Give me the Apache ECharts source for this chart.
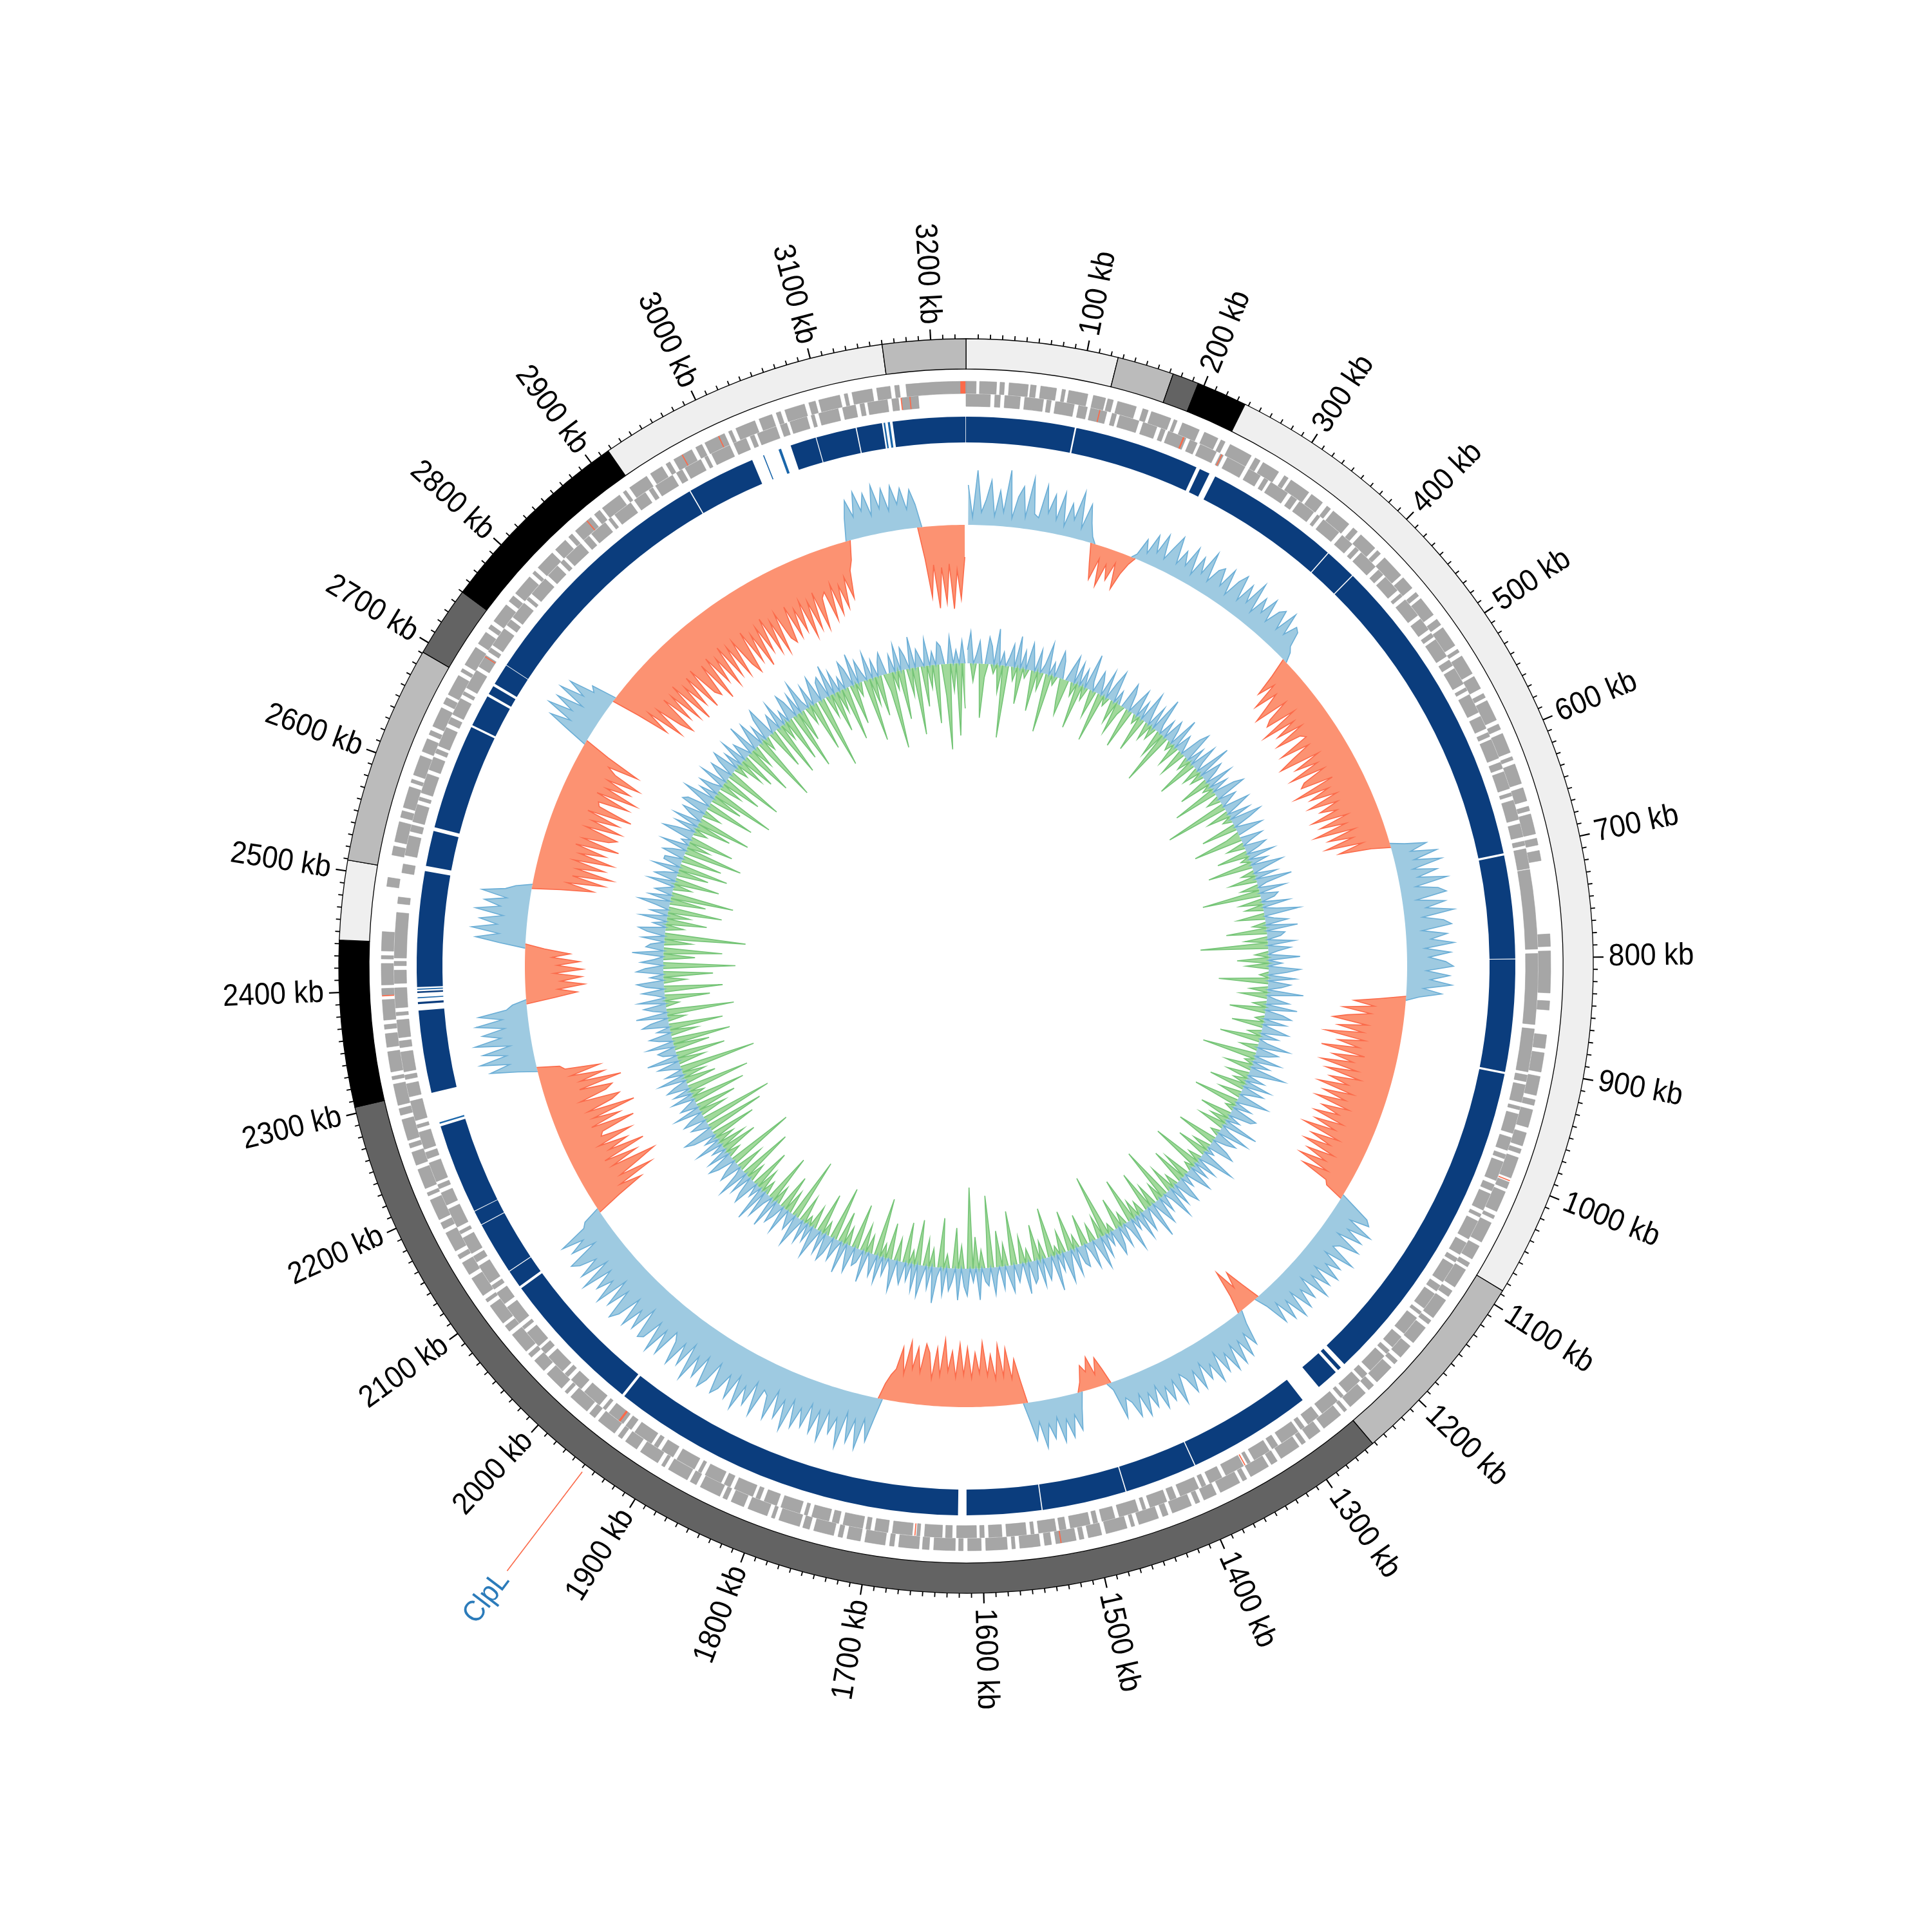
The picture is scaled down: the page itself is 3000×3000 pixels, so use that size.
<!DOCTYPE html>
<html><head><meta charset="utf-8">
<script src="https://cdn.jsdelivr.net/npm/echarts@6/dist/echarts.min.js"></script>
<style>html,body{margin:0;padding:0;background:#fff}#c{width:3000px;height:3000px}</style>
</head><body><div id="c"></div>
<script>
const GENOME_KB = 3229;
const BIN_KB = 5;

// karyotype-like band ring: [start kb, end kb, stain]
const bands = [[0,126,'gneg'],[126,173,'gpos50'],[173,195,'gpos75'],[195,237,'gpos100'],[237,1087,'gneg'],[1087,1252,'gpos50'],[1252,2305,'gpos75'],[2305,2443,'gpos100'],[2443,2509,'gneg'],[2509,2691,'gpos50'],[2691,2750,'gpos75'],[2750,2917,'gpos100'],[2917,3160,'gneg'],[3160,3229,'gpos50']];

// tick labels (kb)
const tickLabels = [100,200,300,400,500,600,700,800,900,1000,1100,1200,1300,1400,1500,1600,1700,1800,1900,2000,2100,2200,2300,2400,2500,2600,2700,2800,2900,3000,3100,3200];

// dark blue block ring: [start, end, kind]
const blocks = [[0,102.5,'a'],[104,222.5,'a'],[226,236,'a'],[242,369.5,'a'],[370.5,400.5,'a'],[401.5,701,'a'],[703,800.3,'a'],[801,907,'a'],[909,1224,'a'],[1228.5,1232,'a'],[1235,1256,'a'],[1275.5,1393,'a'],[1394,1462,'a'],[1463,1542.5,'a'],[1543.5,1614,'a'],[1622,1959.5,'a'],[1962,2099.5,'a'],[2102,2118.6,'a'],[2119.4,2169.3,'a'],[2170,2183.7,'a'],[2184.3,2269.5,'a'],[2272,2273.5,'b'],[2302,2380,'a'],[2386,2388,'a'],[2391.5,2392.5,'b'],[2396.5,2398,'a'],[2399.5,2400.5,'b'],[2402,2511,'a'],[2516,2549.5,'a'],[2553,2653,'a'],[2655,2685.5,'a'],[2688,2696.5,'a'],[2699,2719.3,'a'],[2719.8,2958,'a'],[2959,3023.5,'a'],[3034.5,3035.5,'b'],[3050,3052.5,'b'],[3062,3086.5,'a'],[3087.3,3125,'a'],[3126,3150,'a'],[3151.5,3153,'b'],[3155.5,3157.5,'b'],[3160,3228.5,'a']];

// genes on the forward strand: [start, end] (kb)
const fwdGenes = [[0,9],[12,27],[30,34],[38,55],[57,62],[66,80],[85,88],[91,108],[113,124],[126,131],[135,152],[158,163],[166,184],[187,190],[195,211],[216,229],[232,236],[241,262],[266,271],[274,290],[296,300],[303,322],[325,337],[342,346],[349,367],[372,377],[381,398],[401,405],[410,431],[434,446],[451,455],[458,476],[481,487],[490,509],[513,516],[520,538],[541,553],[558,562],[565,584],[588,593],[597,615],[619,622],[626,644],[648,660],[665,669],[672,690],[694,700],[705,714],[779,790],[794,831],[838,846],[868,880],[884,901],[905,922],[926,931],[935,951],[956,968],[971,975],[979,998],[1002,1008],[1011,1030],[1034,1037],[1041,1060],[1064,1077],[1081,1085],[1088,1106],[1110,1116],[1120,1139],[1142,1146],[1150,1167],[1171,1184],[1188,1192],[1196,1214],[1218,1224],[1228,1246],[1250,1253],[1257,1276],[1280,1292],[1296,1300],[1303,1322],[1326,1332],[1335,1353],[1357,1361],[1364,1383],[1387,1399],[1403,1407],[1411,1429],[1433,1438],[1442,1460],[1464,1467],[1471,1490],[1494,1506],[1510,1514],[1517,1535],[1539,1545],[1549,1567],[1571,1574],[1578,1597],[1601,1613],[1617,1621],[1624,1643],[1647,1653],[1656,1674],[1678,1682],[1686,1704],[1708,1720],[1724,1728],[1732,1750],[1754,1760],[1763,1782],[1786,1789],[1793,1811],[1815,1827],[1831,1835],[1838,1857],[1861,1867],[1870,1889],[1893,1896],[1900,1918],[1922,1934],[1938,1942],[1946,1964],[1968,1974],[1977,1996],[2000,2003],[2007,2025],[2029,2041],[2045,2049],[2052,2071],[2075,2081],[2084,2103],[2107,2110],[2114,2132],[2136,2148],[2152,2156],[2160,2178],[2182,2188],[2191,2210],[2214,2217],[2221,2239],[2243,2255],[2259,2263],[2266,2285],[2289,2295],[2298,2317],[2321,2324],[2328,2346],[2350,2362],[2366,2370],[2374,2392],[2396,2402],[2405,2424],[2428,2431],[2435,2452],[2492,2500],[2520,2528],[2532,2550],[2554,2560],[2563,2582],[2586,2589],[2593,2611],[2615,2627],[2631,2635],[2639,2657],[2661,2667],[2670,2689],[2693,2696],[2700,2718],[2722,2734],[2738,2742],[2746,2764],[2768,2774],[2777,2796],[2800,2803],[2807,2825],[2829,2841],[2845,2849],[2853,2871],[2875,2881],[2884,2903],[2907,2910],[2914,2932],[2936,2948],[2952,2956],[2960,2978],[2982,2988],[2991,3010],[3014,3017],[3021,3039],[3043,3055],[3059,3063],[3067,3085],[3089,3095],[3098,3117],[3121,3124],[3128,3146],[3150,3162],[3166,3170],[3176,3229]];

// genes on the reverse strand: [start, end] (kb)
const revGenes = [[0,22],[26,31],[35,49],[53,70],[73,77],[81,98],[102,110],[113,128],[133,137],[140,158],[162,175],[179,183],[186,203],[207,214],[217,233],[237,240],[244,262],[266,278],[282,286],[289,307],[311,317],[320,336],[340,343],[347,365],[369,381],[385,389],[392,410],[414,420],[423,439],[443,446],[450,468],[472,484],[488,492],[495,513],[517,523],[526,542],[546,549],[553,571],[575,587],[591,595],[598,616],[620,626],[629,645],[649,652],[656,674],[678,690],[694,698],[701,719],[720,792],[796,860],[864,903],[906,912],[915,931],[935,938],[942,960],[964,976],[980,984],[987,1005],[1009,1015],[1018,1034],[1038,1041],[1045,1063],[1067,1079],[1083,1087],[1090,1108],[1112,1118],[1121,1137],[1141,1144],[1148,1166],[1170,1182],[1186,1190],[1193,1211],[1215,1221],[1224,1240],[1244,1247],[1251,1269],[1273,1285],[1289,1293],[1296,1314],[1318,1324],[1327,1343],[1347,1350],[1354,1372],[1376,1388],[1392,1396],[1399,1417],[1421,1427],[1430,1446],[1450,1453],[1457,1475],[1479,1491],[1495,1499],[1502,1520],[1524,1530],[1533,1549],[1553,1556],[1560,1578],[1582,1594],[1598,1602],[1605,1623],[1627,1633],[1636,1652],[1656,1659],[1663,1681],[1685,1697],[1701,1705],[1708,1726],[1730,1736],[1739,1755],[1759,1762],[1766,1784],[1788,1800],[1804,1808],[1811,1829],[1833,1839],[1842,1858],[1862,1865],[1869,1887],[1891,1903],[1907,1911],[1914,1932],[1936,1942],[1945,1961],[1965,1968],[1972,1990],[1994,2006],[2010,2014],[2017,2035],[2039,2045],[2048,2064],[2068,2071],[2075,2093],[2097,2109],[2113,2117],[2120,2138],[2142,2148],[2151,2167],[2171,2174],[2178,2196],[2200,2212],[2216,2220],[2223,2241],[2245,2251],[2254,2270],[2274,2277],[2281,2299],[2303,2315],[2319,2323],[2326,2344],[2348,2354],[2357,2373],[2377,2380],[2384,2402],[2406,2418],[2422,2426],[2429,2470],[2478,2484],[2506,2514],[2522,2540],[2544,2550],[2553,2569],[2573,2576],[2580,2598],[2602,2614],[2618,2622],[2625,2643],[2647,2653],[2656,2672],[2676,2679],[2683,2701],[2705,2717],[2721,2725],[2728,2746],[2750,2756],[2759,2775],[2779,2782],[2786,2804],[2808,2820],[2824,2828],[2831,2849],[2853,2859],[2862,2878],[2882,2885],[2889,2907],[2911,2923],[2927,2931],[2934,2952],[2956,2962],[2965,2981],[2985,2988],[2992,3010],[3014,3026],[3030,3034],[3037,3055],[3059,3065],[3068,3084],[3088,3091],[3095,3113],[3117,3129],[3133,3137],[3140,3158],[3162,3168],[3171,3186]];

// highlighted genes: [start, end, strand]
const highlightGenes = [[3224,3228.5,1],[3170,3171,-1],[3178,3179,-1],[121,122,-1],[200,201.5,-1],[238,239,-1],[1000,1001,1],[1352,1353,-1],[1530,1531,1],[1660,1661,-1],[1948,1950,-1],[2395,2396,1],[2715,2716,-1],[2866,2867,1],[2968,2969,1],[3004,3005,1]];

// annotation labels
const annotNames = ['ClpL'];
const annotPos = [1948];

// GC skew, 5 kb bins, x1000
const gcSkew = [
62,12,85,20,40,70,15,55,22,88,14,48,65,18,80,25,20,72,30,60,
22,66,15,52,28,74,18,58,30,10,-30,-55,-20,-62,-25,-48,-18,-58,-30,-12,
8,35,15,48,22,55,18,40,62,20,45,24,58,16,50,26,66,20,44,52,
25,58,18,47,62,22,55,28,68,20,52,30,60,24,49,57,26,63,28,50,
45,22,15,-30,-65,-38,-82,-45,-70,-95,-42,-78,-88,-40,-102,-50,-85,-44,-94,-55,
-48,-98,-52,-85,-110,-46,-90,-55,-105,-50,-88,-96,-45,-112,-58,-92,-50,-100,-54,-86,
-60,-104,-48,-95,-55,-108,-45,-90,-52,-98,-40,-80,-30,22,55,28,68,30,72,25,
62,30,75,24,58,70,22,66,35,78,28,60,72,25,64,38,74,28,68,34,
60,72,30,66,36,70,26,55,20,-40,-80,-48,-96,-52,-88,-110,-55,-100,-60,-118,
-55,-96,-62,-120,-50,-100,-66,-115,-56,-104,-48,-95,-64,-110,-52,-98,-60,-106,-50,-92,
-62,-100,-50,-94,-58,-108,-46,-90,-55,-96,-42,-85,-50,-92,-40,-80,-35,-30,25,52,
60,30,72,35,65,26,70,40,32,75,28,63,40,70,30,66,36,74,26,62,
38,68,30,72,34,64,26,58,20,-30,-60,-35,-70,-28,20,55,30,66,34,70,
32,72,38,66,28,74,40,62,30,70,36,68,42,30,76,34,64,38,70,30,
62,36,70,32,66,40,30,60,12,-25,-45,-20,-50,-28,-40,-15,25,58,32,66,
36,70,30,62,38,74,32,60,28,-35,-70,-40,-88,-45,-95,-42,-80,-48,-100,-52,
-84,-45,-92,-50,-98,-46,-86,-55,-104,-48,-90,-42,-82,-95,-50,-88,-54,-96,-44,-85,
-50,-40,-25,32,70,36,85,40,78,32,90,45,72,38,88,42,80,36,76,48,
82,40,92,46,78,36,86,50,44,90,38,80,52,94,42,84,48,76,88,40,
74,90,42,82,50,95,38,80,46,88,52,40,86,48,92,44,78,84,36,80,
50,86,40,78,92,44,80,36,88,50,76,42,90,38,82,48,74,85,34,72,
46,80,35,28,-40,-85,-50,-110,-58,-95,-125,-55,-100,-48,-118,-62,-96,-50,-108,-60,
-65,-120,-52,-102,-60,-130,-56,-98,-112,-50,-94,-106,-55,-124,-60,-100,-48,-96,-42,-35,
30,72,40,85,42,78,34,88,46,74,38,82,40,76,32,22,-45,-80,-50,-92,
-55,-88,-45,-90,-50,-85,-42,-70,-30,40,78,42,85,46,74,38,82,44,70,36,
76,40,25,-45,-95,-52,-110,-58,-120,-62,-105,-54,-115,-60,-100,-50,-118,-58,-98,-110,
-56,-112,-62,-104,-50,-120,-64,-60,-108,-52,-116,-62,-100,-58,-110,-65,-50,-98,-42,35,
70,38,82,44,76,34,80,42,72,32,40,-45,-95,-55,-115,-62,-105,-125,-60,-110,
-65,-120,-56,-130,-70,-112,-62,-126,-58,-108,-118,-64,-132,-60,-110,-70,-124,-58,-115,-66,
-122,-64,-110,-128,-60,-116,-72,-130,-66,-112,-58,-120,-70,-126,-62,-108,-118,-60,-114,-70,
-110,-62,-124,-68,-116,-58,-120,-72,-64,-112,-56,-106,-62,-100,-52,-88,-45,-30,35,62,
34,72,40,66,30,76,38,68,32,70,40,64,30,60,36,-50,-110,-60,-128,-65,
-120,-60,-130,-70,-115,-50];

// GC content deviation from mean, 5 kb bins (%)
const gcContent = [
3,7,-4,2,5,-12,-3,6,4,-2,8,-6,3,-16,2,5,-3,7,-8,4,
-2,6,3,-9,5,-4,2,7,-13,3,-2,6,4,-5,-8,3,6,-3,5,-10,
4,-3,8,2,-6,5,3,-11,6,-2,4,7,-5,3,-7,-2,6,4,-9,3,
6,-2,4,-8,7,3,-4,5,-3,8,2,-6,4,-12,5,3,-2,7,-5,4,
2,-6,5,7,-3,4,-9,6,2,-4,8,-3,5,3,-7,6,-2,4,-10,5,
7,-3,4,2,-14,6,3,-5,5,-2,7,4,-8,3,6,-3,-11,5,2,-4,
5,3,-7,6,-2,4,-10,7,3,-3,5,-6,8,2,-4,6,-13,4,3,-5,
6,-4,3,8,-6,2,5,-3,7,-9,4,3,-5,6,-15,5,2,-3,7,-7,
3,-5,7,4,-2,6,-11,5,3,-4,8,-6,2,5,-3,7,-8,4,6,-2,
5,-7,3,6,-3,4,-9,2,7,-4,5,3,-12,6,-2,4,-6,8,3,-5,
4,-3,6,-8,5,2,-5,7,3,-10,4,-2,6,5,-7,3,-4,8,-6,2,
7,-2,5,3,-9,4,6,-4,2,-7,8,3,-3,5,-11,4,-2,6,3,-6,
3,-8,6,4,-3,5,-6,7,2,-12,4,-4,6,3,-5,8,-9,2,5,-3,
6,-4,3,-10,7,2,-3,5,-7,4,6,-2,3,-14,5,-5,7,3,-4,6,
2,-7,5,4,-3,6,-9,3,7,-5,4,-2,8,-11,3,5,-4,6,-8,4,
5,-3,7,-6,2,4,-12,6,3,-5,5,-8,2,6,-16,4,3,-4,7,-7,
3,-18,6,4,-5,7,-9,3,5,-3,6,-11,2,8,-4,5,-6,3,7,-10,
6,-3,4,-9,5,3,-5,7,2,-8,4,-3,6,-13,5,2,-4,7,-6,3,
4,-10,6,3,-4,7,-7,2,5,-12,4,6,-3,5,-9,3,7,-5,4,-2,
5,-6,3,7,-14,4,2,-5,6,-8,3,5,-4,7,-11,2,6,-3,8,-5,
3,-9,6,4,-4,5,-12,7,2,-6,5,3,-15,4,6,-3,5,-8,3,-6,
6,-4,3,-10,5,7,-13,2,4,-16,5,3,-6,6,-9,4,2,-12,5,-3,
4,-14,5,3,-7,6,-5,4,-17,2,5,-6,7,-11,3,4,-8,6,-13,3,
5,-6,3,-12,6,4,-4,7,-15,3,5,-3,6,-10,2,5,-13,4,6,-5,
3,-11,6,4,-16,5,2,-7,7,-13,4,3,-6,5,-18,4,6,-4,3,-9,
6,-5,4,-12,3,7,-8,5,-14,4,2,-4,6,-10,5,3,-7,6,-11,4,
4,-9,5,3,-13,6,-5,2,-10,7,4,-3,5,-8,6,-12,3,5,-4,6,
5,-11,3,7,-7,4,-14,5,2,-5,6,-9,3,5,-13,4,6,-3,4,-6,
6,-8,4,2,-11,7,-5,3,6,-15,4,-3,5,7,-9,2,4,-12,6,-4,
3,-10,6,4,-13,5,-7,7,2,-4,5,-11,3,6,-16,4,5,-5,7,-9,
5,-5,3,-12,6,4,-9,7,-3,5,2,-14,6,-6,4,-9,3,5,-4,-17,
4,-4,6,-11,5,3,-6,7,-15,4,2,-9,6,-5,3,-13,5,4,-7,-19,
6,-6,3,-16,5,-10];

// ---------------- styling / layout ----------------
const R = {bandIn:927, bandOut:974, tickBase:974, tickMinor:981, tickMajor:990, label:998,
  fwd:[889,908], rev:[869,888], blockIn:813, blockOut:853, annIn:986, annOut:1179, annText:1188};
const stainColor = {gneg:'#efefef', gpos50:'#bbbbbb', gpos75:'#636363', gpos100:'#000000'};
const FONT = '"Liberation Sans",Arial,sans-serif';
const TEXT_SQUEEZE = 0.92;

function sectorShape(params, api, rIn, rOut, a0, a1){
  const cs = params.coordSys;
  const p0 = api.coord([rOut, a0]), p1 = api.coord([rOut, a1]), q = api.coord([rIn, a0]);
  let s = Math.atan2(p0[1]-cs.cy, p0[0]-cs.cx);
  let e = Math.atan2(p1[1]-cs.cy, p1[0]-cs.cx);
  while (e <= s) e += 2*Math.PI;
  return {cx:cs.cx, cy:cs.cy, r0:Math.hypot(q[0]-cs.cx,q[1]-cs.cy), r:Math.hypot(p0[0]-cs.cx,p0[1]-cs.cy), startAngle:s, endAngle:e, clockwise:true};
}

function areaTrack(params, api, values, posFill, posStroke, negFill, negStroke){
  const n = values.length;
  const base=[], up=[], dn=[];
  for (let i=0;i<n;i++){
    const a = Math.min(i*BIN_KB + BIN_KB/2, GENOME_KB);
    const b = api.coord([0,a]); base.push([b[0],b[1]]);
    const u = api.coord([Math.max(values[i],0),a]); up.push([u[0],u[1]]);
    const d = api.coord([Math.min(values[i],0),a]); dn.push([d[0],d[1]]);
  }
  const rb = base.slice().reverse();
  const children = [
    {type:'polygon', shape:{points:up.concat(rb)}, style:{fill:posFill, stroke:'none'}},
    {type:'polygon', shape:{points:dn.concat(rb)}, style:{fill:negFill, stroke:'none'}}
  ];
  function runs(pts, test, color){
    let cur = null;
    for (let i=0;i<n-1;i++){
      if (test(values[i]) || test(values[i+1])){
        if (!cur){ cur=[pts[i]]; }
        cur.push(pts[i+1]);
      } else if (cur){
        children.push({type:'polyline', shape:{points:cur}, style:{stroke:color, lineWidth:1.6, fill:'none'}});
        cur=null;
      }
    }
    if (cur) children.push({type:'polyline', shape:{points:cur}, style:{stroke:color, lineWidth:1.6, fill:'none'}});
  }
  runs(up, v=>v>0, posStroke);
  runs(dn, v=>v<0, negStroke);
  return {type:'group', children};
}

function radialText(params, api, kb, rv, text, size, color){
  const cs = params.coordSys;
  const p = api.coord([rv, kb]);
  const sa = Math.atan2(p[1]-cs.cy, p[0]-cs.cx);
  const right = Math.cos(sa) > 0;
  return {type:'text', x:p[0], y:p[1], rotation: right ? -sa : -(sa+Math.PI), scaleX:TEXT_SQUEEZE, scaleY:1,
    style:{text:text, fontSize:size, fontFamily:FONT, fill:color, align:right?'left':'right', verticalAlign:'middle'}};
}

const minorTicks = [];
for (let k=10; k<GENOME_KB; k+=10) minorTicks.push(k);

const chart = echarts.init(document.getElementById('c'), null, {renderer:'canvas', width:3000, height:3000});
const hiddenAngle = i => ({polarIndex:i, type:'value', min:0, max:GENOME_KB, startAngle:90, clockwise:true, show:false});

function geneSeries(list, ring){
  return {
    type:'custom', coordinateSystem:'polar', polarIndex:0, clip:false, silent:true,
    data: list.map(g=>[g[0], g[1]]),
    renderItem(params, api){
      const g = list[params.dataIndex];
      return {type:'sector', shape:sectorShape(params, api, ring[0], ring[1], g[0], g[1]),
        style:{fill:'#a6a6a6', stroke:'#9b9b9b', lineWidth:0.6}};
    }
  };
}

const option = {
  animation:false,
  backgroundColor:'#ffffff',
  polar:[
    {center:['50%','50%'], radius:[0,1000]},
    {center:['50%','50%'], radius:[550,780]},
    {center:['50%','50%'], radius:[330,540]}
  ],
  angleAxis:[hiddenAngle(0), hiddenAngle(1), hiddenAngle(2)],
  radiusAxis:[
    {polarIndex:0, type:'value', min:0, max:1000, show:false},
    {polarIndex:1, type:'value', min:-135, max:95, show:false},
    {polarIndex:2, type:'value', min:-20, max:10, show:false}
  ],
  series:[
    { // band ring
      type:'custom', coordinateSystem:'polar', polarIndex:0, clip:false, silent:true,
      data: bands.map(b=>[b[0], b[1]]),
      renderItem(params, api){
        const b = bands[params.dataIndex];
        return {type:'sector', shape:sectorShape(params, api, R.bandIn, R.bandOut, b[0], b[1]),
          style:{fill:stainColor[b[2]], stroke:'#000', lineWidth:1.3}};
      }
    },
    { // ticks
      type:'custom', coordinateSystem:'polar', polarIndex:0, clip:false, silent:true,
      data: minorTicks.map(k=>[k]),
      renderItem(params, api){
        const k = minorTicks[params.dataIndex];
        const major = tickLabels.indexOf(k) >= 0;
        const p = api.coord([R.tickBase, k]), q = api.coord([major?R.tickMajor:R.tickMinor, k]);
        return {type:'line', shape:{x1:p[0],y1:p[1],x2:q[0],y2:q[1]}, style:{stroke:'#000', lineWidth:major?2.2:1.8}};
      }
    },
    { // tick labels
      type:'custom', coordinateSystem:'polar', polarIndex:0, clip:false, silent:true,
      data: tickLabels.map(k=>[k]),
      renderItem(params, api){
        const k = tickLabels[params.dataIndex];
        return radialText(params, api, k, R.label, k+' kb', 48, '#000');
      }
    },
    geneSeries(fwdGenes, R.fwd),
    geneSeries(revGenes, R.rev),
    { // highlighted genes
      type:'custom', coordinateSystem:'polar', polarIndex:0, clip:false, silent:true,
      data: highlightGenes.map(g=>[g[0], g[1]]),
      renderItem(params, api){
        const g = highlightGenes[params.dataIndex];
        const rr = g[2] > 0 ? R.fwd : R.rev;
        return {type:'sector', shape:sectorShape(params, api, rr[0], rr[1], g[0], g[1]),
          style:{fill:'#fb6a4a'}};
      }
    },
    { // dark blue block ring
      type:'custom', coordinateSystem:'polar', polarIndex:0, clip:false, silent:true,
      data: blocks.map(b=>[b[0], b[1]]),
      renderItem(params, api){
        const b = blocks[params.dataIndex];
        return {type:'sector', shape:sectorShape(params, api, R.blockIn, R.blockOut, b[0], b[1]),
          style:{fill: b[2]==='a' ? '#0b3d7d' : '#1a66aa'}};
      }
    },
    { // GC skew
      type:'custom', coordinateSystem:'polar', polarIndex:1, clip:false, silent:true,
      data:[[0,0]],
      renderItem(params, api){ return areaTrack(params, api, gcSkew, '#9ecae1', '#6baed6', '#fc9272', '#fb6a4a'); }
    },
    { // GC content
      type:'custom', coordinateSystem:'polar', polarIndex:2, clip:false, silent:true,
      data:[[0,0]],
      renderItem(params, api){ return areaTrack(params, api, gcContent, '#9ecae1', '#6baed6', '#a1d99b', '#74c476'); }
    },
    { // annotation
      type:'custom', coordinateSystem:'polar', polarIndex:0, clip:false, silent:true,
      data: annotPos.map(k=>[k]),
      renderItem(params, api){
        const k = annotPos[params.dataIndex];
        const a = api.coord([R.annIn, k]), b = api.coord([R.annOut, k]);
        return {type:'group', children:[
          {type:'line', shape:{x1:a[0],y1:a[1],x2:b[0],y2:b[1]}, style:{stroke:'#fb6a4a', lineWidth:1.6}},
          radialText(params, api, k, R.annText, annotNames[params.dataIndex], 46, '#2b7bba')
        ]};
      }
    }
  ]
};
chart.setOption(option);
</script>
</body></html>
